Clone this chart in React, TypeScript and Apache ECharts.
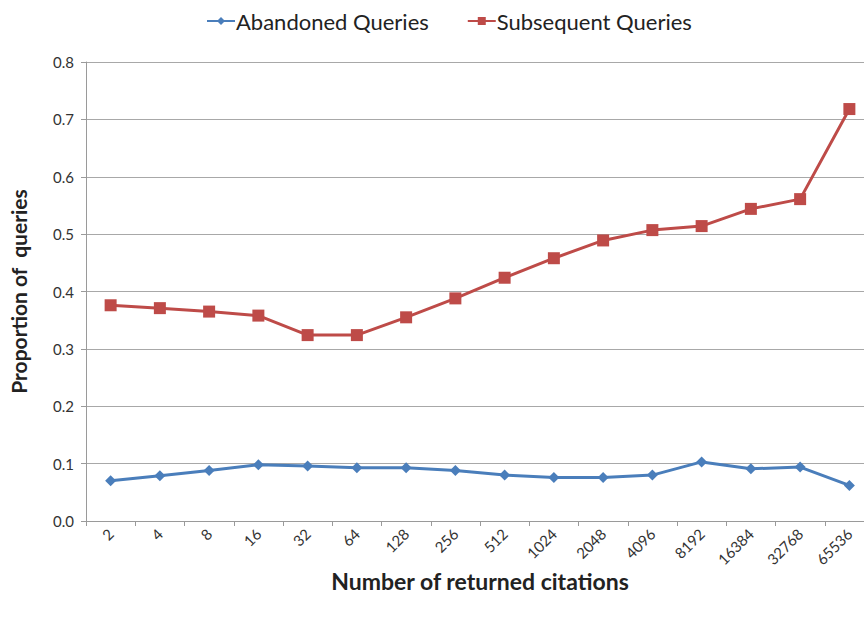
import React, { useEffect, useRef } from "react";
import * as echarts from "echarts";

const categories = ["2", "4", "8", "16", "32", "64", "128", "256", "512", "1024", "2048", "4096", "8192", "16384", "32768", "65536"];
const abandoned = [0.070, 0.079, 0.088, 0.098, 0.096, 0.093, 0.093, 0.088, 0.080, 0.076, 0.076, 0.080, 0.103, 0.091, 0.094, 0.062];
const subsequent = [0.376, 0.371, 0.365, 0.358, 0.324, 0.324, 0.355, 0.388, 0.424, 0.458, 0.489, 0.507, 0.514, 0.544, 0.561, 0.718];

const FONT = "Lato, 'Open Sans', sans-serif";

export default function App() {
  const ref = useRef<HTMLDivElement>(null);
  useEffect(() => {
    if (!ref.current) return;
    const chart = echarts.init(ref.current, undefined, { renderer: "svg" });
    chart.setOption({
      animation: false,
      textStyle: { fontFamily: FONT },
      legend: {
        top: 5,
        left: 201,
        itemGap: 38,
        itemWidth: 28,
        itemHeight: 10,
        textStyle: { fontSize: 22, color: "#222", fontFamily: FONT, padding: [0, 0, 0, -4] },
        data: ["Abandoned Queries", "Subsequent Queries"],
      },
      grid: { left: 86, width: 788, top: 62, height: 459, containLabel: false, outerBoundsMode: "none" },
      xAxis: {
        type: "category",
        data: categories,
        boundaryGap: true,
        axisLine: { lineStyle: { color: "#9a9a9a", width: 1 } },
        axisTick: { show: true, inside: false, length: 5, lineStyle: { color: "#9a9a9a" } },
        axisLabel: { rotate: 45, fontSize: 15, color: "#333", margin: 10, fontFamily: FONT },
        name: "Number of returned citations",
        nameLocation: "middle",
        nameGap: 48,
        nameMoveOverlap: false,
        nameTextStyle: { fontSize: 23, fontWeight: "bold", color: "#222", fontFamily: FONT },
      },
      yAxis: {
        type: "value",
        min: 0,
        max: 0.8,
        interval: 0.1,
        axisLine: { show: true, lineStyle: { color: "#9a9a9a", width: 1 } },
        axisTick: { show: true, length: 5, lineStyle: { color: "#9a9a9a" } },
        splitLine: { lineStyle: { color: "#a8a8a8", width: 1 } },
        axisLabel: { fontSize: 15, color: "#333", margin: 12, formatter: (v: number) => v.toFixed(1), fontFamily: FONT },
        name: "Proportion of  queries",
        nameLocation: "middle",
        nameGap: 57,
        nameMoveOverlap: false,
        nameTextStyle: { fontSize: 21, fontWeight: "bold", color: "#222", fontFamily: FONT },
      },
      series: [
        {
          name: "Abandoned Queries",
          type: "line",
          data: abandoned,
          symbol: "diamond",
          symbolSize: 11,
          lineStyle: { color: "#4A7EBB", width: 3 },
          itemStyle: { color: "#4A7EBB" },
        },
        {
          name: "Subsequent Queries",
          type: "line",
          data: subsequent,
          symbol: "rect",
          symbolSize: 12,
          lineStyle: { color: "#BE4B48", width: 3 },
          itemStyle: { color: "#BE4B48" },
        },
      ],
    });
    return () => chart.dispose();
  }, []);
  return <div ref={ref} style={{ position: "absolute", left: 0, top: 0, width: 864, height: 623 }} />;
}
